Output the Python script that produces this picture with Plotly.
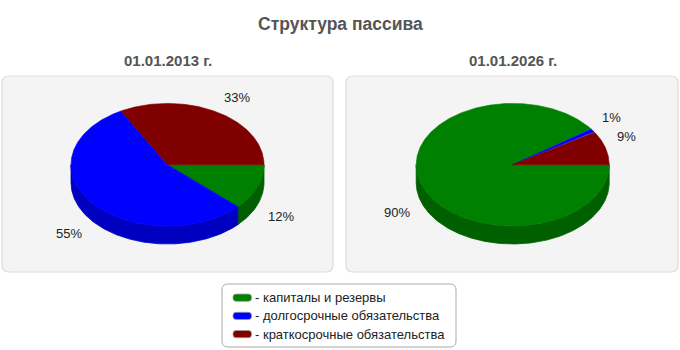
import numpy as np
import plotly.graph_objects as go

# ---------------- data ----------------
chart_title = "Структура пассива"
dates = ["01.01.2013 г.", "01.01.2026 г."]
categories = ["капиталы и резервы", "долгосрочные обязательства", "краткосрочные обязательства"]
values_2013 = [12, 55, 33]
values_2026 = [90, 1, 9]

# ---------------- style ----------------
top_colors = ["#008000", "#0000ff", "#800000"]
side_colors = ["#006000", "#0000c0", "#600000"]
W, H = 680, 350
RX, RY, DEPTH = 96.5, 61.3, 18
centers = [(167.5, 164.7), (512.7, 164.7)]
panels = [(2, 76, 333, 272), (346, 76, 678, 272)]
text_font = "Liberation Sans, Arial, sans-serif"


def round_rect(x0, y0, x1, y1, r):
    return (f"M {x0+r},{y0} L {x1-r},{y0} Q {x1},{y0} {x1},{y0+r} "
            f"L {x1},{y1-r} Q {x1},{y1} {x1-r},{y1} L {x0+r},{y1} "
            f"Q {x0},{y1} {x0},{y1-r} L {x0},{y0+r} Q {x0},{y0} {x0+r},{y0} Z")


def arc(cx, cy, a0, a1, dy=0.0):
    n = max(2, int(abs(a1 - a0) * 2) + 2)
    t = np.radians(np.linspace(a0, a1, n))
    return cx + RX * np.cos(t), cy - RY * np.sin(t) + dy


fig = go.Figure()
shapes = []
annotations = []

for p in panels:
    shapes.append(dict(type="path", path=round_rect(*p, 7), xref="x", yref="y",
                       fillcolor="#f4f4f4", line=dict(color="#dddddd", width=1.2),
                       layer="below"))

for (cx, cy), vals, date in zip(centers, [values_2013, values_2026], dates):
    total = float(sum(vals))
    cum = np.concatenate([[0], np.cumsum(vals)]) / total
    angles = [(-360 * cum[i], -360 * cum[i + 1]) for i in range(len(vals))]
    # side walls (front half only)
    for i, (a0, a1) in enumerate(angles):
        hi, lo = min(a0, 0), max(a1, -180)
        if lo < hi:
            xt, yt = arc(cx, cy, hi, lo)
            xb, yb = arc(cx, cy, lo, hi, DEPTH)
            fig.add_trace(go.Scatter(
                x=np.concatenate([xt, xb, xt[:1]]), y=np.concatenate([yt, yb, yt[:1]]),
                mode="lines", fill="toself", fillcolor=side_colors[i],
                line=dict(color=side_colors[i], width=0.8), hoverinfo="skip",
                showlegend=False))
    # top faces
    for i, (a0, a1) in enumerate(angles):
        xa, ya = arc(cx, cy, a0, a1)
        fig.add_trace(go.Scatter(
            x=np.concatenate([[cx], xa, [cx]]), y=np.concatenate([[cy], ya, [cy]]),
            mode="lines", fill="toself", fillcolor=top_colors[i],
            line=dict(color=top_colors[i], width=0.6), hoverinfo="skip",
            name=categories[i], showlegend=False))
    # percentage labels
    for i, (a0, a1) in enumerate(angles):
        m = np.radians((a0 + a1) / 2)
        c, s = np.cos(m), np.sin(m)
        lx = cx + 1.1 * RX * c
        ly = cy - 1.09 * RY * s + (DEPTH if s < 0 else 0)
        annotations.append(dict(
            x=lx, y=ly, xref="x", yref="y", showarrow=False,
            text=f"{vals[i] / total * 100:.0f}%",
            xanchor="left" if c >= 0 else "right",
            yanchor="bottom" if s > 0 else "top",
            font=dict(family=text_font, size=13, color="#222222")))
    annotations.append(dict(x=cx, y=60, xref="x", yref="y", showarrow=False,
                            text=f"<b>{date}</b>", xanchor="center", yanchor="middle",
                            font=dict(family=text_font, size=15, color="#555555")))

annotations.append(dict(x=340, y=23.5, xref="x", yref="y", showarrow=False,
                        text=f"<b>{chart_title}</b>", xanchor="center", yanchor="middle",
                        font=dict(family=text_font, size=17.5, color="#555555")))

# legend box
shapes.append(dict(type="path", path=round_rect(222, 284, 456, 347, 6), xref="x", yref="y",
                   fillcolor="#ffffff", line=dict(color="#aaaaaa", width=1)))
row_y = [297.7, 315.9, 334.1]
for i, cat in enumerate(categories):
    y = row_y[i]
    shapes.append(dict(type="path", path=round_rect(233, y - 3.6, 251.5, y + 3.6, 3),
                       xref="x", yref="y", fillcolor=top_colors[i],
                       line=dict(color="#999999", width=0.8)))
    annotations.append(dict(x=252.5, y=y, xref="x", yref="y", showarrow=False,
                            text=f"- {cat}", xanchor="left", yanchor="middle",
                            font=dict(family=text_font, size=13, color="#222222")))

fig.update_layout(
    width=W, height=H, margin=dict(l=0, r=0, t=0, b=0),
    paper_bgcolor="white", plot_bgcolor="white",
    xaxis=dict(range=[0, W], visible=False, fixedrange=True),
    yaxis=dict(range=[H, 0], visible=False, fixedrange=True),
    shapes=shapes, annotations=annotations, showlegend=False,
)

fig.write_html("out.html")
